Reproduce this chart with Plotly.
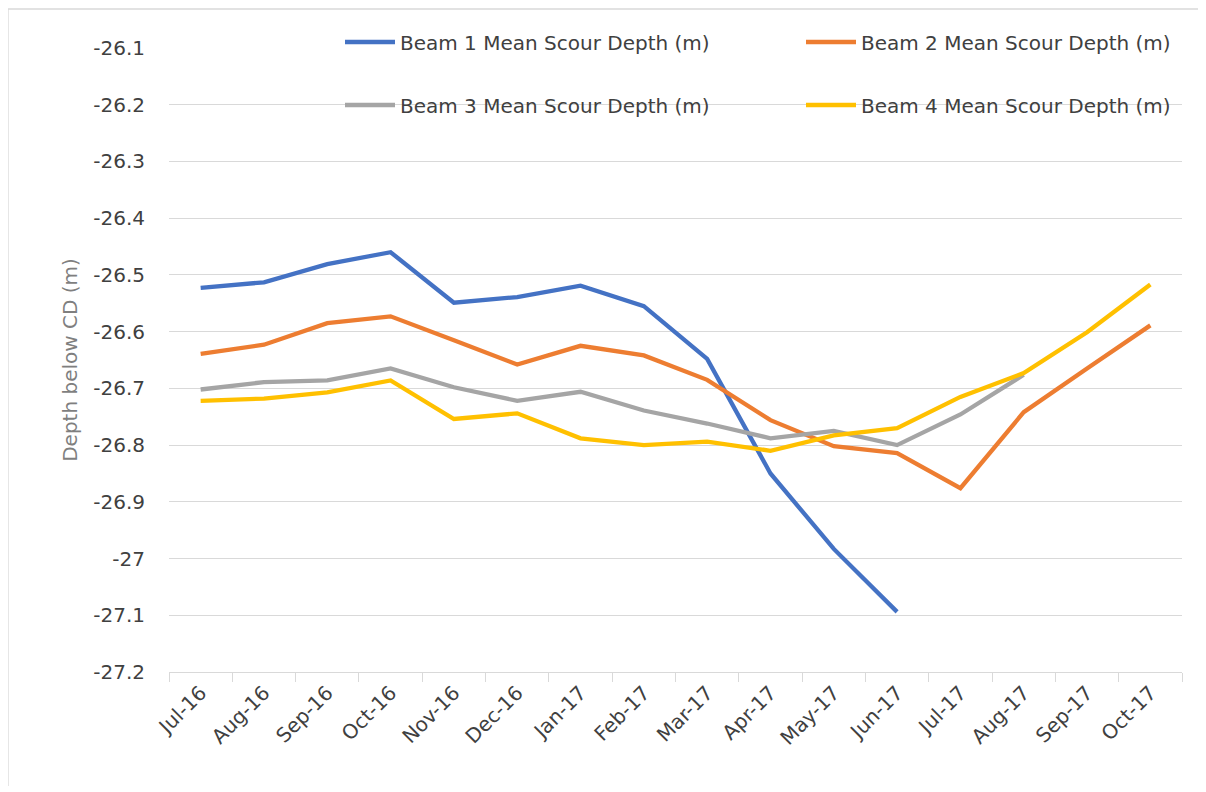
import plotly.graph_objects as go

months = ["Jul-16", "Aug-16", "Sep-16", "Oct-16", "Nov-16", "Dec-16", "Jan-17", "Feb-17",
          "Mar-17", "Apr-17", "May-17", "Jun-17", "Jul-17", "Aug-17", "Sep-17", "Oct-17"]

beam1 = [-26.523, -26.513, -26.481, -26.460, -26.549, -26.539, -26.519, -26.555,
         -26.648, -26.850, -26.983, -27.094, None, None, None, None]
beam2 = [-26.639, -26.623, -26.585, -26.573, -26.615, -26.658, -26.625, -26.642,
         -26.685, -26.756, -26.802, -26.814, -26.876, -26.742, -26.665, -26.589]
beam3 = [-26.702, -26.689, -26.686, -26.665, -26.698, -26.722, -26.706, -26.739,
         -26.762, -26.788, -26.775, -26.800, -26.746, -26.676, None, None]
beam4 = [-26.722, -26.718, -26.707, -26.686, -26.754, -26.744, -26.788, -26.800,
         -26.794, -26.810, -26.783, -26.770, -26.715, -26.673, -26.601, -26.517]

series_names = ["Beam 1 Mean Scour Depth (m)", "Beam 2 Mean Scour Depth (m)",
                "Beam 3 Mean Scour Depth (m)", "Beam 4 Mean Scour Depth (m)"]

y_tick_vals = [-27.2, -27.1, -27.0, -26.9, -26.8, -26.7, -26.6, -26.5, -26.4, -26.3, -26.2, -26.1]
y_tick_text = ["-27.2", "-27.1", "-27", "-26.9", "-26.8", "-26.7", "-26.6", "-26.5",
               "-26.4", "-26.3", "-26.2", "-26.1"]

colors = ["#4472C4", "#ED7D31", "#A5A5A5", "#FFC000"]
FONT = "DejaVu Sans"
FS = 20

# page body has an 8px margin; figure sits inside it
OFF = 8
W, H = 1200 - OFF, 786 - OFF
# plot area in page px
L, R, T, B = 169, 1182, 48, 672


def fx(px):  # page px -> figure px
    return px - OFF


def fy(py):
    return py - OFF


def xp(px):  # page px -> plot paper fraction
    return (px - L) / (R - L)


def yp(py):
    return (B - py) / (B - T)


def cx(px):  # page px -> container fraction
    return fx(px) / W


def cy(py):
    return 1 - fy(py) / H


legend_ids = ["legend", "legend2", "legend3", "legend4"]
# legend item positions (page px): symbol start x, row centre y
legend_pos = [(340, 42), (801, 42), (340, 105), (801, 105)]

fig = go.Figure()
for name, vals, col, lg in zip(series_names, [beam1, beam2, beam3, beam4], colors, legend_ids):
    fig.add_trace(go.Scatter(x=months, y=vals, mode="lines", name=name,
                             line=dict(color=col, width=4.3), connectgaps=False,
                             legend=lg))

legend_common = dict(orientation="h", xanchor="left", yanchor="middle",
                     xref="container", yref="container",
                     font=dict(family=FONT, size=FS, color="#404040"),
                     bgcolor="rgba(0,0,0,0)", itemwidth=50, borderwidth=0)

legends = {}
for lg, (lx, ly) in zip(legend_ids, legend_pos):
    legends[lg] = dict(x=cx(lx), y=cy(ly), **legend_common)

fig.update_layout(
    width=W, height=H,
    margin=dict(l=fx(L), r=W - fx(R), t=fy(T), b=H - fy(B), pad=0, autoexpand=False),
    paper_bgcolor="white", plot_bgcolor="white",
    font=dict(family=FONT, size=FS, color="#404040"),
    showlegend=True,
    **legends,
    xaxis=dict(type="category", categoryorder="array", categoryarray=months,
               tickangle=-45, tickson="boundaries", ticks="outside", ticklen=9,
               tickcolor="#d9d9d9", tickwidth=1.3, showgrid=False,
               showline=True, linecolor="#d9d9d9", linewidth=1.3, automargin=False,
               tickfont=dict(family=FONT, size=FS, color="#404040"),
               range=[-0.5, 15.5], fixedrange=True),
    yaxis=dict(range=[-27.2, -26.1], tickvals=y_tick_vals, ticktext=y_tick_text,
               showgrid=True, gridcolor="#d9d9d9", gridwidth=1.3, automargin=False,
               zeroline=False, showline=False, ticks="", ticklabelstandoff=23,
               tickfont=dict(family=FONT, size=FS, color="#404040"),
               title=dict(text="Depth below CD (m)", standoff=10,
                          font=dict(family=FONT, size=FS, color="#7f7f7f"))),
    shapes=[
        dict(type="line", xref="paper", yref="paper", x0=xp(OFF), x1=xp(OFF),
             y0=yp(9), y1=yp(800), line=dict(color="#d9d9d9", width=1.3)),
        dict(type="line", xref="paper", yref="paper", x0=xp(OFF), x1=xp(1210),
             y0=yp(9), y1=yp(9), line=dict(color="#d9d9d9", width=1.3)),
    ],
)

fig.write_html("out.html")
